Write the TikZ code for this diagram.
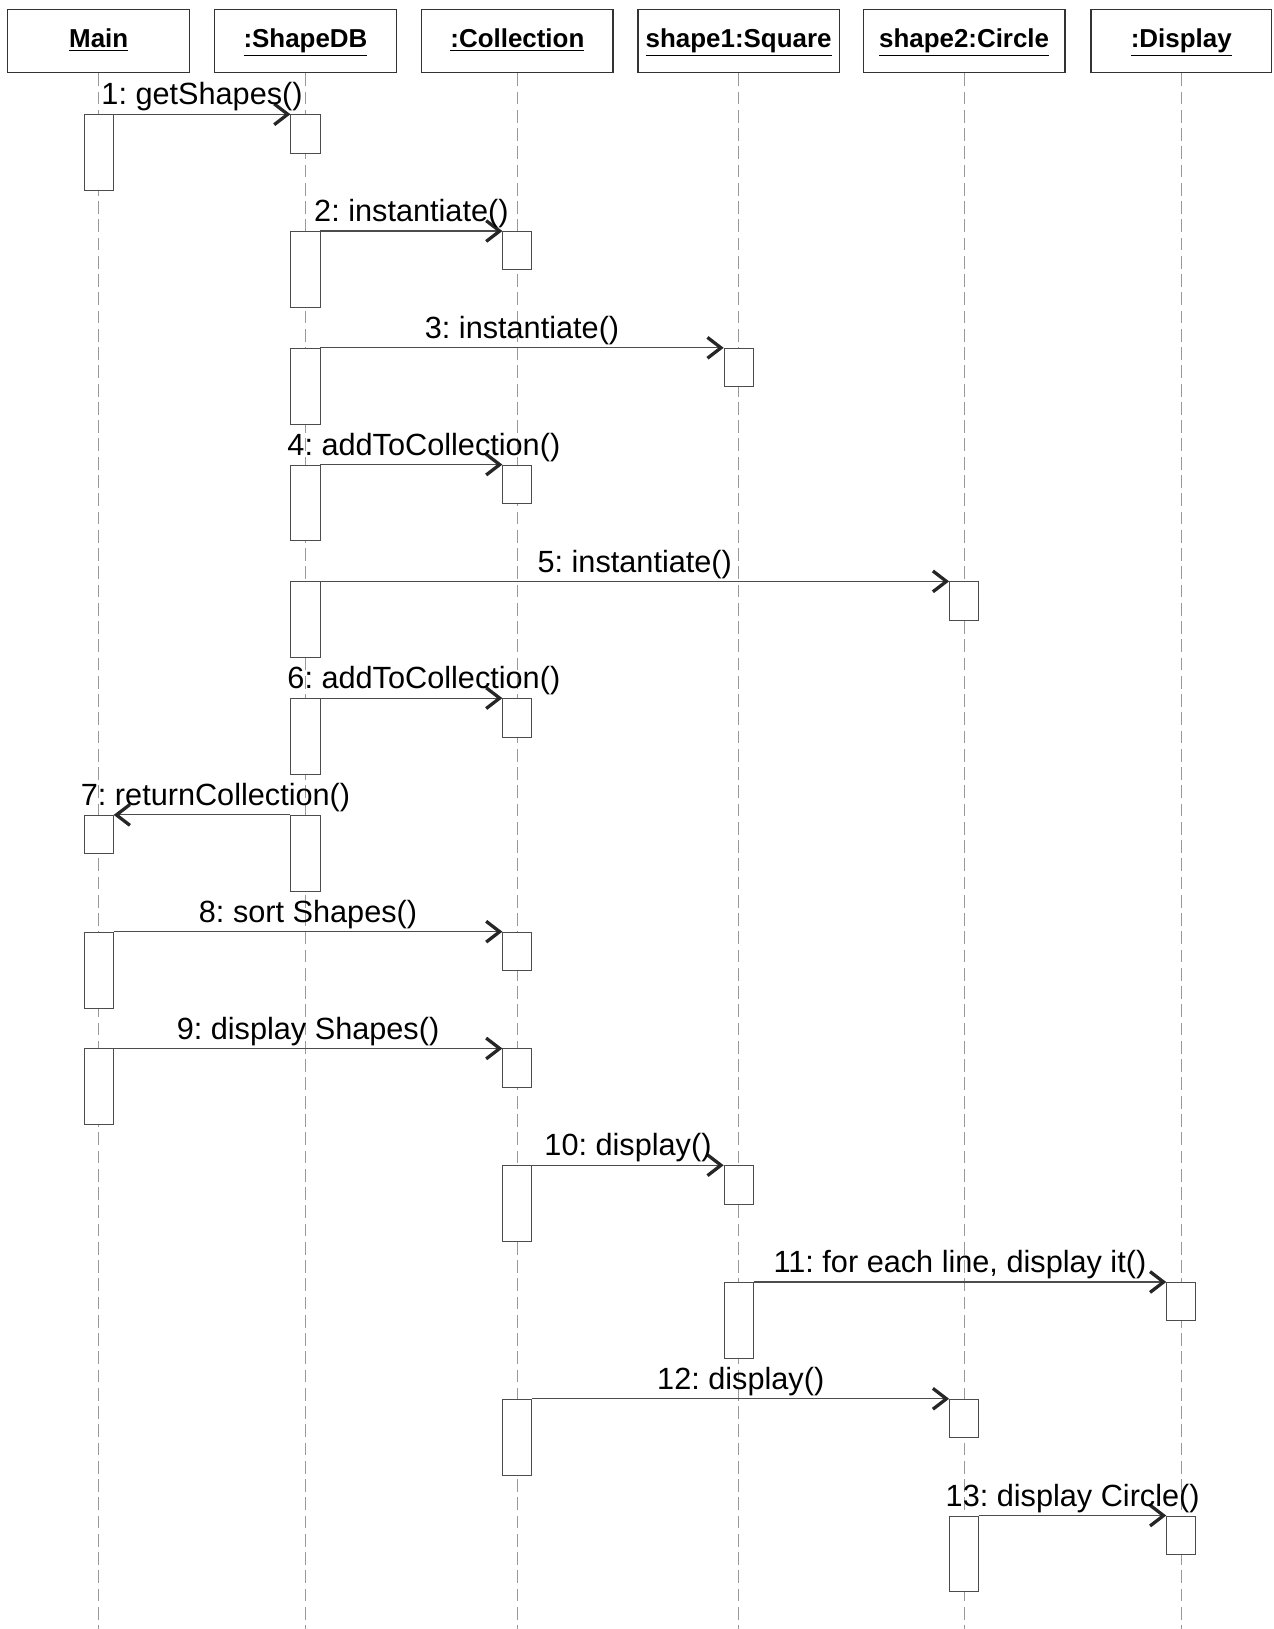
\documentclass[tikz,border=0pt]{standalone}
\usepackage{fontspec}
\setmainfont{Liberation Sans}
\usetikzlibrary{arrows.meta}
\frenchspacing

\newcommand{\msgfont}{\fontsize{16.8}{19}\selectfont}
\newcommand{\objfont}{\fontsize{14.2}{17}\selectfont\bfseries}

\tikzset{
	obj/.style={draw=black!80, line width=0.7pt, minimum height=1.22cm, inner sep=0pt, text height=1.9ex, text depth=0.6ex, font=\objfont},
	life/.style={draw=black!40, line width=0.5pt, dash pattern=on 7pt off 3pt},
	sendbar/.style={draw=black!70, fill=white, line width=0.5pt, minimum width=0.56cm, minimum height=1.46cm, inner sep=0pt, anchor=north},
	recvbar/.style={sendbar, minimum height=0.74cm},
	msg/.style={draw=black!70, line width=0.6pt, -{Straight Barb[length=0.26cm, width=0.4cm, line width=1.8pt, color=black!85]}},
	msglbl/.style={midway, anchor=base, yshift=0.18cm, font=\msgfont, inner sep=0pt}
}

\begin{document}
\begin{tikzpicture}
	
	\useasboundingbox (0,0) rectangle (24.52,-31.36);
	
	\node[obj, minimum width=3.5cm] (main) at (1.9,-0.79) {\underline{Main}};
	\node[obj, minimum width=3.5cm] (db) at (5.88,-0.79) {\underline{:ShapeDB}};
	\node[obj, minimum width=3.68cm] (coll) at (9.96,-0.79) {\underline{:Collection}};
	\node[obj, minimum width=3.88cm] (sq) at (14.22,-0.79) {\underline{shape1:Square}};
	\node[obj, minimum width=3.88cm] (circ) at (18.56,-0.79) {\underline{shape2:Circle}};
	\node[obj, minimum width=3.48cm] (disp) at (22.74,-0.79) {\underline{:Display}};
	
	\coordinate (mainEnd) at (1.9,-31.36);
	\coordinate (dbEnd) at (5.88,-31.36);
	\coordinate (collEnd) at (9.96,-31.36);
	\coordinate (sqEnd) at (14.22,-31.36);
	\coordinate (circEnd) at (18.56,-31.36);
	\coordinate (dispEnd) at (22.74,-31.36);
	
	\draw[life] (main.south) -- (mainEnd);
	\draw[life] (db.south) -- (dbEnd);
	\draw[life] (coll.south) -- (collEnd);
	\draw[life] (sq.south) -- (sqEnd);
	\draw[life] (circ.south) -- (circEnd);
	\draw[life] (disp.south) -- (dispEnd);
	
	\node[sendbar] (main1) at (1.9,-2.2) {};
	\node[recvbar] (db1) at (5.88,-2.2) {};
	
	\node[sendbar] (db2) at (5.88,-4.448) {};
	\node[recvbar] (coll2) at (9.96,-4.448) {};
	
	\node[sendbar] (db3) at (5.88,-6.696) {};
	\node[recvbar] (sq3) at (14.22,-6.696) {};
	
	\node[sendbar] (db4) at (5.88,-8.944) {};
	\node[recvbar] (coll4) at (9.96,-8.944) {};
	
	\node[sendbar] (db5) at (5.88,-11.192) {};
	\node[recvbar] (circ5) at (18.56,-11.192) {};
	
	\node[sendbar] (db6) at (5.88,-13.44) {};
	\node[recvbar] (coll6) at (9.96,-13.44) {};
	
	\node[sendbar] (db7) at (5.88,-15.688) {};
	\node[recvbar] (main7) at (1.9,-15.688) {};
	
	\node[sendbar] (main8) at (1.9,-17.936) {};
	\node[recvbar] (coll8) at (9.96,-17.936) {};
	
	\node[sendbar] (main9) at (1.9,-20.184) {};
	\node[recvbar] (coll9) at (9.96,-20.184) {};
	
	\node[sendbar] (coll10) at (9.96,-22.432) {};
	\node[recvbar] (sq10) at (14.22,-22.432) {};
	
	\node[sendbar] (sq11) at (14.22,-24.68) {};
	\node[recvbar] (disp11) at (22.74,-24.68) {};
	
	\node[sendbar] (coll12) at (9.96,-26.928) {};
	\node[recvbar] (circ12) at (18.56,-26.928) {};
	
	\node[sendbar] (circ13) at (18.56,-29.176) {};
	\node[recvbar] (disp13) at (22.74,-29.176) {};
	
	\draw[msg] (main1.north east) -- (db1.north west) node[msglbl] {1: getShapes()};
	\draw[msg] (db2.north east) -- (coll2.north west) node[msglbl] {2: instantiate()};
	\draw[msg] (db3.north east) -- (sq3.north west) node[msglbl] {3: instantiate()};
	\draw[msg] (db4.north east) -- (coll4.north west) node[msglbl, xshift=0.24cm] {4: addToCollection()};
	\draw[msg] (db5.north east) -- (circ5.north west) node[msglbl] {5: instantiate()};
	\draw[msg] (db6.north east) -- (coll6.north west) node[msglbl, xshift=0.24cm] {6: addToCollection()};
	\draw[msg] (db7.north west) -- (main7.north east) node[msglbl, xshift=0.26cm] {7: returnCollection()};
	\draw[msg] (main8.north east) -- (coll8.north west) node[msglbl] {8: sort Shapes()};
	\draw[msg] (main9.north east) -- (coll9.north west) node[msglbl] {9: display Shapes()};
	\draw[msg] (coll10.north east) -- (sq10.north west) node[msglbl] {10: display()};
	\draw[msg] (sq11.north east) -- (disp11.north west) node[msglbl] {11: for each line, display it()};
	\draw[msg] (coll12.north east) -- (circ12.north west) node[msglbl] {12: display()};
	\draw[msg] (circ13.north east) -- (disp13.north west) node[msglbl] {13: display Circle()};
	
\end{tikzpicture}
\end{document}
